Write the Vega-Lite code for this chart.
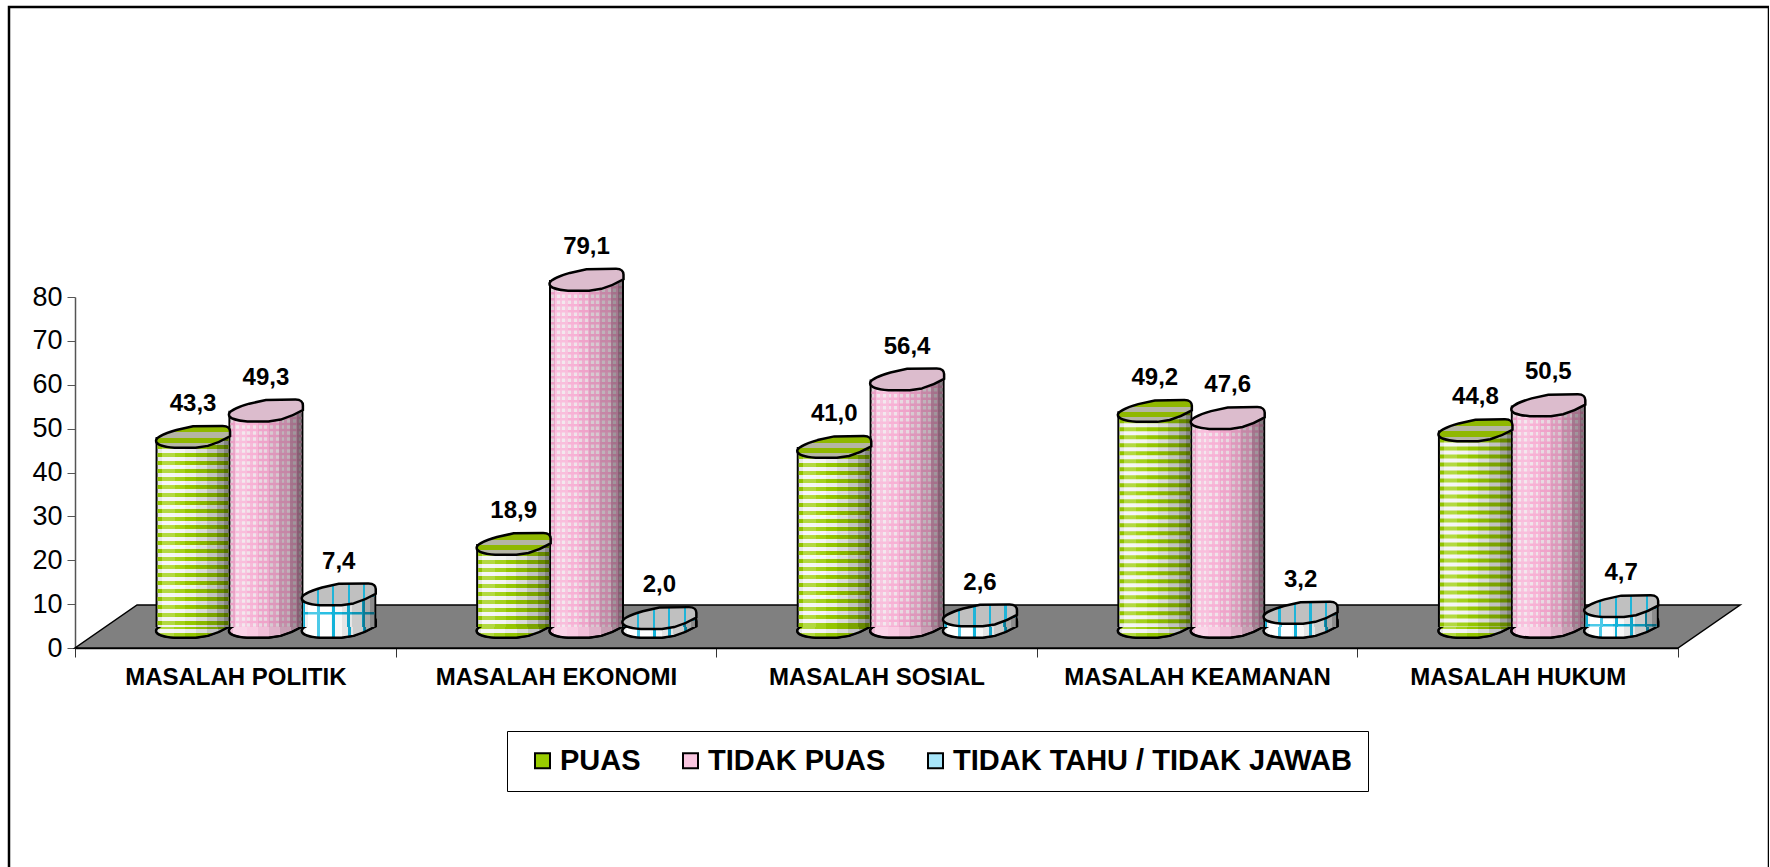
{
"$schema":"https://vega.github.io/schema/vega-lite/v6.json",
"width":1760,"height":870,
"padding":{"left":9,"top":7,"right":0,"bottom":0},
"autosize":"none",
"background":"white",
"config":{"view":{"stroke":"#000","strokeWidth":2.5},"font":"Liberation Sans"},
"datasets":{
"bars":[
{"masalah":"MASALAH POLITIK","jawaban":"PUAS","nilai":43.3,"label":"43,3"},
{"masalah":"MASALAH POLITIK","jawaban":"TIDAK PUAS","nilai":49.3,"label":"49,3"},
{"masalah":"MASALAH POLITIK","jawaban":"TIDAK TAHU / TIDAK JAWAB","nilai":7.4,"label":"7,4"},
{"masalah":"MASALAH EKONOMI","jawaban":"PUAS","nilai":18.9,"label":"18,9"},
{"masalah":"MASALAH EKONOMI","jawaban":"TIDAK PUAS","nilai":79.1,"label":"79,1"},
{"masalah":"MASALAH EKONOMI","jawaban":"TIDAK TAHU / TIDAK JAWAB","nilai":2.0,"label":"2,0"},
{"masalah":"MASALAH SOSIAL","jawaban":"PUAS","nilai":41.0,"label":"41,0"},
{"masalah":"MASALAH SOSIAL","jawaban":"TIDAK PUAS","nilai":56.4,"label":"56,4"},
{"masalah":"MASALAH SOSIAL","jawaban":"TIDAK TAHU / TIDAK JAWAB","nilai":2.6,"label":"2,6"},
{"masalah":"MASALAH KEAMANAN","jawaban":"PUAS","nilai":49.2,"label":"49,2"},
{"masalah":"MASALAH KEAMANAN","jawaban":"TIDAK PUAS","nilai":47.6,"label":"47,6"},
{"masalah":"MASALAH KEAMANAN","jawaban":"TIDAK TAHU / TIDAK JAWAB","nilai":3.2,"label":"3,2"},
{"masalah":"MASALAH HUKUM","jawaban":"PUAS","nilai":44.8,"label":"44,8"},
{"masalah":"MASALAH HUKUM","jawaban":"TIDAK PUAS","nilai":50.5,"label":"50,5"},
{"masalah":"MASALAH HUKUM","jawaban":"TIDAK TAHU / TIDAK JAWAB","nilai":4.7,"label":"4,7"}
],
"lantai":[
{"u":0,"bawah":0,"atas":0},
{"u":0.0387,"bawah":0,"atas":9.8},
{"u":1,"bawah":0,"atas":9.8},
{"u":1.0387,"bawah":9.8,"atas":9.8}
]},
"resolve":{"scale":{"x":"independent","xOffset":"independent"}},
"layer":[
{"data":{"name":"lantai"},
 "mark":{"type":"area","fill":"#808080","stroke":"#000","strokeWidth":1.5,"clip":false},
 "encoding":{
  "x":{"field":"u","type":"quantitative","axis":null,"scale":{"domain":[0,1],"range":[66,1669],"nice":false,"zero":false}},
  "y":{"field":"bawah","type":"quantitative","scale":{"domain":[0,80],"range":[641,290],"nice":false},
   "axis":{"title":null,"orient":"left","offset":-66,"values":[0,10,20,30,40,50,60,70,80],"grid":false,"labelFont":"Liberation Sans","labelFontSize":27,"labelColor":"#000","labelPadding":5,"tickSize":8,"tickColor":"#555","domainColor":"#555","domainWidth":1.5}},
  "y2":{"field":"atas"}}},
{"data":{"name":"bars"},
 "encoding":{
  "x":{"field":"masalah","type":"nominal","sort":null,"scale":{"range":[66,1669],"paddingInner":0,"paddingOuter":0},
   "axis":{"title":null,"orient":"bottom","offset":-229,"labelAngle":0,"labelFont":"Liberation Sans","labelFontWeight":"bold","labelFontSize":24,"labelColor":"#000","labelPadding":8,"tickBand":"extent","tickSize":9,"tickColor":"#333","domainColor":"#000","domainWidth":1.5,"labelLimit":320}},
  "xOffset":{"field":"jawaban","type":"nominal","sort":null,"scale":{"range":[0,320.6],"paddingInner":0,"paddingOuter":0.7,"align":0.8}}
 },
 "layer":[
  {"mark":{"type":"point","filled":true,"opacity":1,"stroke":"#000","strokeWidth":2,"shape":"M-1,0.1 C-1,0 -0.7,-0.12 -0.45,-0.19 L0,-0.29 L0.8,-0.3 C0.95,-0.3 1,-0.22 1,-0.15 L1,-0.02 C0.8,0.1 0.6,0.18 0.4,0.24 L0.07,0.29 L-0.5,0.29 C-0.8,0.27 -1,0.2 -1,0.1 Z","size":5476,"yOffset":-21},
   "encoding":{
    "y":{"datum":0,"type":"quantitative"},
    "fill":{"field":"jawaban","type":"nominal","sort":null,
     "scale":{"domain":["PUAS","TIDAK PUAS","TIDAK TAHU / TIDAK JAWAB"],"range":["#99cc00","#f9c6e0","#a8e6fa"]},
     "legend":{"orient":"none","legendX":498,"legendY":724,"direction":"horizontal","columns":3,"title":null,"strokeColor":"#000","fillColor":"#fff","padding":15,"columnPadding":29,"symbolType":"square","symbolSize":225,"symbolStrokeColor":"#000","symbolStrokeWidth":2,"symbolOpacity":1,"labelFont":"Liberation Sans","labelFontWeight":"bold","labelFontSize":29,"labelColor":"#000","labelLimit":500,"labelOffset":3,"symbolOffset":6}}}},
  {"transform":[{"filter":"datum.jawaban==='PUAS'"}],
   "mark":{"type":"point","filled":true,"opacity":1,"shape":"M-1,0.1 C-1,0 -0.7,-0.12 -0.45,-0.19 L0,-0.29 L0.8,-0.3 C0.95,-0.3 1,-0.22 1,-0.15 L1,-0.02 C0.8,0.1 0.6,0.18 0.4,0.24 L0.07,0.29 L-0.5,0.29 C-0.8,0.27 -1,0.2 -1,0.1 Z","size":5476,"yOffset":-21,
    "fill":{"gradient":"linear","x1":0,"x2":0,"y1":0,"y2":1,"stops":[{"offset":0,"color":"#99cc00"},{"offset":0.6,"color":"#99cc00"},{"offset":0.6,"color":"#f2f2f2"},{"offset":0.8,"color":"#f2f2f2"},{"offset":0.8,"color":"#99cc00"},{"offset":1,"color":"#99cc00"}]}},
   "encoding":{"y":{"datum":0,"type":"quantitative"}}},
  {"transform":[{"filter":"datum.jawaban==='TIDAK TAHU / TIDAK JAWAB'"}],
   "mark":{"type":"point","filled":true,"opacity":1,"shape":"M-1,0.1 C-1,0 -0.7,-0.12 -0.45,-0.19 L0,-0.29 L0.8,-0.3 C0.95,-0.3 1,-0.22 1,-0.15 L1,-0.02 C0.8,0.1 0.6,0.18 0.4,0.24 L0.07,0.29 L-0.5,0.29 C-0.8,0.27 -1,0.2 -1,0.1 Z","size":5476,"yOffset":-21,
    "fill":{"gradient":"linear","x1":0,"x2":1,"y1":0,"y2":0,"stops":[
     {"offset":0,"color":"#ffffff"},{"offset":0.2,"color":"#ffffff"},{"offset":0.2,"color":"#12b8e0"},{"offset":0.24,"color":"#12b8e0"},{"offset":0.24,"color":"#ffffff"},
     {"offset":0.41,"color":"#ffffff"},{"offset":0.41,"color":"#12b8e0"},{"offset":0.45,"color":"#12b8e0"},{"offset":0.45,"color":"#ffffff"},
     {"offset":0.62,"color":"#ffffff"},{"offset":0.62,"color":"#12b8e0"},{"offset":0.66,"color":"#12b8e0"},{"offset":0.66,"color":"#ffffff"},
     {"offset":0.83,"color":"#ffffff"},{"offset":0.83,"color":"#12b8e0"},{"offset":0.87,"color":"#12b8e0"},{"offset":0.87,"color":"#ffffff"},{"offset":1,"color":"#ffffff"}]}},
   "encoding":{"y":{"datum":0,"type":"quantitative"}}},
  {"mark":{"type":"point","filled":true,"opacity":1,"shape":"M-1,0.1 C-1,0 -0.7,-0.12 -0.45,-0.19 L0,-0.29 L0.8,-0.3 C0.95,-0.3 1,-0.22 1,-0.15 L1,-0.02 C0.8,0.1 0.6,0.18 0.4,0.24 L0.07,0.29 L-0.5,0.29 C-0.8,0.27 -1,0.2 -1,0.1 Z","size":5476,"stroke":"#000","strokeWidth":2.5,"yOffset":-21,
    "fill":{"gradient":"linear","x1":0,"x2":1,"y1":0,"y2":0,"stops":[
    {"offset":0.00,"color":"rgba(0,0,0,0.05)"},{"offset":0.06,"color":"rgba(0,0,0,0.05)"},{"offset":0.06,"color":"rgba(255,255,255,0.25)"},
    {"offset":0.24,"color":"rgba(255,255,255,0.25)"},{"offset":0.24,"color":"rgba(255,255,255,0.1)"},{"offset":0.39,"color":"rgba(255,255,255,0.1)"},{"offset":0.39,"color":"rgba(0,0,0,0.03)"},
    {"offset":0.54,"color":"rgba(0,0,0,0.03)"},{"offset":0.54,"color":"rgba(0,0,0,0.1)"},{"offset":0.69,"color":"rgba(0,0,0,0.1)"},{"offset":0.69,"color":"rgba(0,0,0,0.2)"},
    {"offset":0.84,"color":"rgba(0,0,0,0.2)"},{"offset":0.84,"color":"rgba(0,0,0,0.33)"},{"offset":0.94,"color":"rgba(0,0,0,0.33)"},{"offset":0.94,"color":"rgba(0,0,0,0.45)"},{"offset":1,"color":"rgba(0,0,0,0.45)"}]}},
   "encoding":{"y":{"datum":0,"type":"quantitative"}}},
  {"mark":{"type":"bar","width":75,"fill":"#000","yOffset":-21,"y2Offset":-21},
   "encoding":{"y":{"field":"nilai","type":"quantitative"},"y2":{"datum":0}}},
  {"mark":{"type":"bar","width":71,"yOffset":-21,"y2Offset":-21},
   "encoding":{"y":{"field":"nilai","type":"quantitative"},"y2":{"datum":0},
    "color":{"field":"jawaban","type":"nominal","sort":null,"legend":null,
     "scale":{"domain":["TIDAK PUAS","PUAS","TIDAK TAHU / TIDAK JAWAB"],"range":["#efe0e8","#f2f2f2","#ffffff"]}}}},
  {"mark":{"type":"rule","strokeWidth":71,"yOffset":-21,"y2Offset":-21},
   "encoding":{"y":{"field":"nilai","type":"quantitative"},"y2":{"datum":0},
    "stroke":{"field":"jawaban","type":"nominal","sort":null,"legend":null,
     "scale":{"domain":["TIDAK TAHU / TIDAK JAWAB","PUAS","TIDAK PUAS"],"range":["#12b8e0","#99cc00","#f7a8d0"]}},
    "strokeDash":{"field":"jawaban","type":"nominal","sort":null,"legend":null,
     "scale":{"domain":["TIDAK TAHU / TIDAK JAWAB","TIDAK PUAS","PUAS"],"range":[[2.5,15],[2.5,3.5],[4,4]]}}}},
  {"transform":[{"filter":"datum.jawaban==='TIDAK PUAS'"}],
   "mark":{"type":"bar","width":71,"yOffset":-21,"y2Offset":-21,"fill":{"gradient":"linear","x1":0,"x2":1,"y1":0,"y2":0,"stops":[
    {"offset":0.00,"color":"rgba(247,168,208,0)"},{"offset":0.04,"color":"rgba(247,168,208,0)"},{"offset":0.04,"color":"rgba(247,168,208,0.8)"},{"offset":0.08,"color":"rgba(247,168,208,0.8)"},
    {"offset":0.08,"color":"rgba(247,168,208,0)"},{"offset":0.12,"color":"rgba(247,168,208,0)"},{"offset":0.12,"color":"rgba(247,168,208,0.8)"},{"offset":0.16,"color":"rgba(247,168,208,0.8)"},
    {"offset":0.16,"color":"rgba(247,168,208,0)"},{"offset":0.20,"color":"rgba(247,168,208,0)"},{"offset":0.20,"color":"rgba(247,168,208,0.8)"},{"offset":0.24,"color":"rgba(247,168,208,0.8)"},
    {"offset":0.24,"color":"rgba(247,168,208,0)"},{"offset":0.28,"color":"rgba(247,168,208,0)"},{"offset":0.28,"color":"rgba(247,168,208,0.8)"},{"offset":0.32,"color":"rgba(247,168,208,0.8)"},
    {"offset":0.32,"color":"rgba(247,168,208,0)"},{"offset":0.36,"color":"rgba(247,168,208,0)"},{"offset":0.36,"color":"rgba(247,168,208,0.8)"},{"offset":0.40,"color":"rgba(247,168,208,0.8)"},
    {"offset":0.40,"color":"rgba(247,168,208,0)"},{"offset":0.44,"color":"rgba(247,168,208,0)"},{"offset":0.44,"color":"rgba(247,168,208,0.8)"},{"offset":0.48,"color":"rgba(247,168,208,0.8)"},
    {"offset":0.48,"color":"rgba(247,168,208,0)"},{"offset":0.52,"color":"rgba(247,168,208,0)"},{"offset":0.52,"color":"rgba(247,168,208,0.8)"},{"offset":0.56,"color":"rgba(247,168,208,0.8)"},
    {"offset":0.56,"color":"rgba(247,168,208,0)"},{"offset":0.60,"color":"rgba(247,168,208,0)"},{"offset":0.60,"color":"rgba(247,168,208,0.8)"},{"offset":0.64,"color":"rgba(247,168,208,0.8)"},
    {"offset":0.64,"color":"rgba(247,168,208,0)"},{"offset":0.68,"color":"rgba(247,168,208,0)"},{"offset":0.68,"color":"rgba(247,168,208,0.8)"},{"offset":0.72,"color":"rgba(247,168,208,0.8)"},
    {"offset":0.72,"color":"rgba(247,168,208,0)"},{"offset":0.76,"color":"rgba(247,168,208,0)"},{"offset":0.76,"color":"rgba(247,168,208,0.8)"},{"offset":0.80,"color":"rgba(247,168,208,0.8)"},
    {"offset":0.80,"color":"rgba(247,168,208,0)"},{"offset":0.84,"color":"rgba(247,168,208,0)"},{"offset":0.84,"color":"rgba(247,168,208,0.8)"},{"offset":0.88,"color":"rgba(247,168,208,0.8)"},
    {"offset":0.88,"color":"rgba(247,168,208,0)"},{"offset":0.92,"color":"rgba(247,168,208,0)"},{"offset":0.92,"color":"rgba(247,168,208,0.8)"},{"offset":0.96,"color":"rgba(247,168,208,0.8)"},
    {"offset":0.96,"color":"rgba(247,168,208,0)"},{"offset":1,"color":"rgba(247,168,208,0)"}]}},
   "encoding":{"y":{"field":"nilai","type":"quantitative"},"y2":{"datum":0}}},
  {"transform":[{"filter":"datum.jawaban==='TIDAK TAHU / TIDAK JAWAB'"}],
   "mark":{"type":"bar","width":71,"yOffset":-21,"y2Offset":-21,"fill":{"gradient":"linear","x1":0,"x2":1,"y1":0,"y2":0,"stops":[
    {"offset":0.00,"color":"rgba(18,184,224,1)"},{"offset":0.03,"color":"rgba(18,184,224,1)"},{"offset":0.03,"color":"rgba(18,184,224,0)"},
    {"offset":0.20,"color":"rgba(18,184,224,0)"},{"offset":0.20,"color":"rgba(18,184,224,1)"},{"offset":0.24,"color":"rgba(18,184,224,1)"},{"offset":0.24,"color":"rgba(18,184,224,0)"},
    {"offset":0.41,"color":"rgba(18,184,224,0)"},{"offset":0.41,"color":"rgba(18,184,224,1)"},{"offset":0.45,"color":"rgba(18,184,224,1)"},{"offset":0.45,"color":"rgba(18,184,224,0)"},
    {"offset":0.62,"color":"rgba(18,184,224,0)"},{"offset":0.62,"color":"rgba(18,184,224,1)"},{"offset":0.66,"color":"rgba(18,184,224,1)"},{"offset":0.66,"color":"rgba(18,184,224,0)"},
    {"offset":0.83,"color":"rgba(18,184,224,0)"},{"offset":0.83,"color":"rgba(18,184,224,1)"},{"offset":0.87,"color":"rgba(18,184,224,1)"},{"offset":0.87,"color":"rgba(18,184,224,0)"},
    {"offset":1,"color":"rgba(18,184,224,0)"}]}},
   "encoding":{"y":{"field":"nilai","type":"quantitative"},"y2":{"datum":0}}},
  {"mark":{"type":"bar","width":71,"yOffset":-21,"y2Offset":-21,"fill":{"gradient":"linear","x1":0,"x2":1,"y1":0,"y2":0,"stops":[
    {"offset":0.00,"color":"rgba(0,0,0,0.05)"},{"offset":0.06,"color":"rgba(0,0,0,0.05)"},{"offset":0.06,"color":"rgba(255,255,255,0.25)"},
    {"offset":0.24,"color":"rgba(255,255,255,0.25)"},{"offset":0.24,"color":"rgba(255,255,255,0.1)"},{"offset":0.39,"color":"rgba(255,255,255,0.1)"},{"offset":0.39,"color":"rgba(0,0,0,0.03)"},
    {"offset":0.54,"color":"rgba(0,0,0,0.03)"},{"offset":0.54,"color":"rgba(0,0,0,0.1)"},{"offset":0.69,"color":"rgba(0,0,0,0.1)"},{"offset":0.69,"color":"rgba(0,0,0,0.2)"},
    {"offset":0.84,"color":"rgba(0,0,0,0.2)"},{"offset":0.84,"color":"rgba(0,0,0,0.33)"},{"offset":0.94,"color":"rgba(0,0,0,0.33)"},{"offset":0.94,"color":"rgba(0,0,0,0.45)"},{"offset":1,"color":"rgba(0,0,0,0.45)"}]}},
   "encoding":{"y":{"field":"nilai","type":"quantitative"},"y2":{"datum":0}}},
  {"transform":[{"filter":"datum.jawaban==='PUAS'"}],
   "mark":{"type":"point","filled":true,"opacity":1,"shape":"M-1,0.1 C-1,0 -0.7,-0.12 -0.45,-0.19 L0,-0.29 L0.8,-0.3 C0.95,-0.3 1,-0.22 1,-0.15 L1,-0.02 C0.8,0.1 0.6,0.18 0.4,0.24 L0.07,0.29 L-0.5,0.29 C-0.8,0.27 -1,0.2 -1,0.1 Z","size":5476,"stroke":"#000","strokeWidth":2.5,"yOffset":-21,
    "fill":{"gradient":"linear","x1":0,"x2":0,"y1":0,"y2":1,"stops":[
     {"offset":0,"color":"#8fb800"},{"offset":0.3,"color":"#8fb800"},{"offset":0.3,"color":"#b5b5a5"},{"offset":0.55,"color":"#b5b5a5"},{"offset":0.55,"color":"#8fb800"},{"offset":0.8,"color":"#8fb800"},{"offset":0.8,"color":"#b5b5a5"},{"offset":1,"color":"#b5b5a5"}]}},
   "encoding":{"y":{"field":"nilai","type":"quantitative"}}},
  {"transform":[{"filter":"datum.jawaban==='TIDAK PUAS'"}],
   "mark":{"type":"point","filled":true,"opacity":1,"shape":"M-1,0.1 C-1,0 -0.7,-0.12 -0.45,-0.19 L0,-0.29 L0.8,-0.3 C0.95,-0.3 1,-0.22 1,-0.15 L1,-0.02 C0.8,0.1 0.6,0.18 0.4,0.24 L0.07,0.29 L-0.5,0.29 C-0.8,0.27 -1,0.2 -1,0.1 Z","size":5476,"stroke":"#000","strokeWidth":2.5,"yOffset":-21,"fill":"#dcbccd"},
   "encoding":{"y":{"field":"nilai","type":"quantitative"}}},
  {"transform":[{"filter":"datum.jawaban==='TIDAK TAHU / TIDAK JAWAB'"}],
   "mark":{"type":"point","filled":true,"opacity":1,"shape":"M-1,0.1 C-1,0 -0.7,-0.12 -0.45,-0.19 L0,-0.29 L0.8,-0.3 C0.95,-0.3 1,-0.22 1,-0.15 L1,-0.02 C0.8,0.1 0.6,0.18 0.4,0.24 L0.07,0.29 L-0.5,0.29 C-0.8,0.27 -1,0.2 -1,0.1 Z","size":5476,"stroke":"#000","strokeWidth":2.5,"yOffset":-21,
    "fill":{"gradient":"linear","x1":0,"x2":1,"y1":0,"y2":0,"stops":[
     {"offset":0,"color":"#c0c0c0"},{"offset":0.2,"color":"#c0c0c0"},{"offset":0.2,"color":"#1fb4d8"},{"offset":0.23,"color":"#1fb4d8"},{"offset":0.23,"color":"#c0c0c0"},
     {"offset":0.41,"color":"#c0c0c0"},{"offset":0.41,"color":"#1fb4d8"},{"offset":0.44,"color":"#1fb4d8"},{"offset":0.44,"color":"#c0c0c0"},
     {"offset":0.62,"color":"#c0c0c0"},{"offset":0.62,"color":"#1fb4d8"},{"offset":0.65,"color":"#1fb4d8"},{"offset":0.65,"color":"#c0c0c0"},
     {"offset":0.83,"color":"#c0c0c0"},{"offset":0.83,"color":"#1fb4d8"},{"offset":0.86,"color":"#1fb4d8"},{"offset":0.86,"color":"#c0c0c0"},{"offset":1,"color":"#c0c0c0"}]}},
   "encoding":{"y":{"field":"nilai","type":"quantitative"}}},
  {"mark":{"type":"text","font":"Liberation Sans","fontWeight":"bold","fontSize":24,"color":"#000","yOffset":-54,"baseline":"middle","align":"center"},
   "encoding":{"y":{"field":"nilai","type":"quantitative"},"text":{"field":"label","type":"nominal"}}}
 ]}
]}
